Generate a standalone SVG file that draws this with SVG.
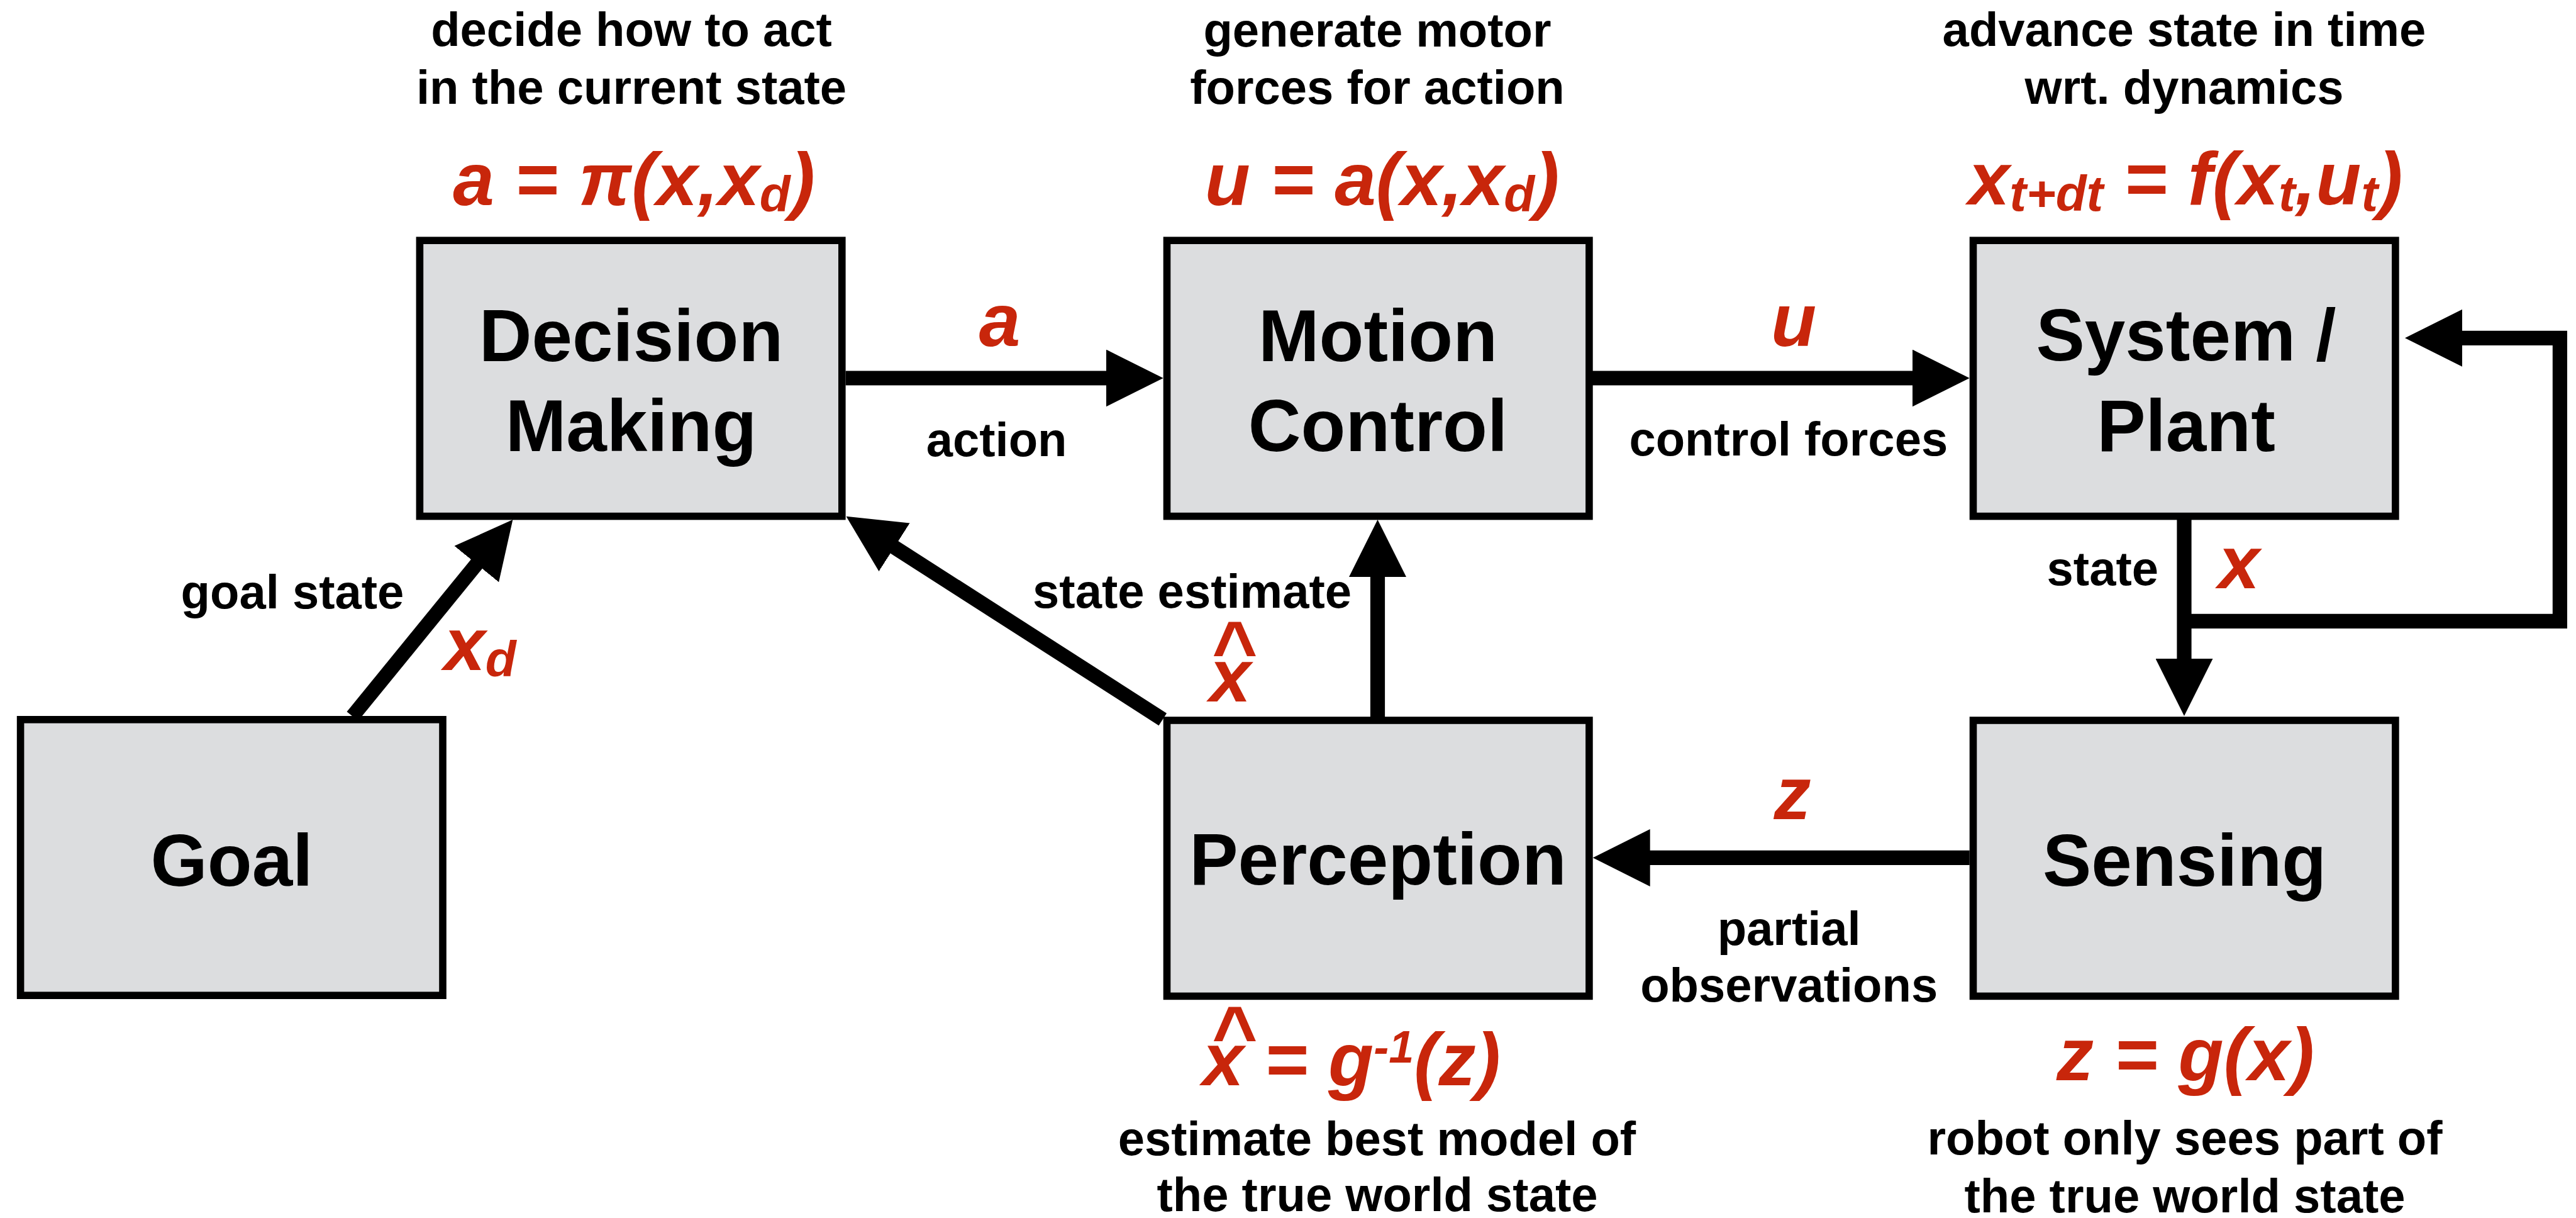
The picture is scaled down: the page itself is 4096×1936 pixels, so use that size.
<svg xmlns="http://www.w3.org/2000/svg" width="4096" height="1936" viewBox="0 0 4096 1936">
  <defs>
    <style>
      .box { fill: #DCDDDF; stroke: #000; stroke-width: 11.6; }
      .node { font-family: "Liberation Sans", Arial, sans-serif; font-weight: bold; font-size: 116px; text-anchor: middle; fill: #000; }
      .note { font-family: "Liberation Sans", Arial, sans-serif; font-weight: bold; font-size: 76px; text-anchor: middle; fill: #000; }
      .note.end { text-anchor: end; }
      .math { font-family: "Liberation Sans", Arial, sans-serif; font-weight: bold; font-style: italic; font-size: 118px; fill: #C8260B; }
      .hat { font-size: 124px; }
      .sub { font-size: 80px; }
      .sup { font-size: 72px; }
      .wire { fill: none; stroke: #000; stroke-width: 23.2; stroke-linejoin: miter; marker-end: url(#head); }
    </style>
    <marker id="head" markerUnits="userSpaceOnUse" viewBox="0 0 91 91" markerWidth="91" markerHeight="91" refX="2" refY="45.5" orient="auto">
      <path d="M0,0 L91,45.5 L0,91 Z" fill="#000"/>
    </marker>
  </defs>

  <rect width="4096" height="1936" fill="#fff"/>

  <!-- connectors -->
  <g id="connectors">
    <path class="wire" d="M560.5,1138.5 L759.1,895"/>
    <path class="wire" d="M1344.6,601 H1760.7"/>
    <path class="wire" d="M2531.8,601 H3042.7"/>
    <path class="wire" d="M3473,825.6 V1049"/>
    <path class="wire" d="M3473,987.4 H4070.4 V537.3 H3913"/>
    <path class="wire" d="M3131.7,1363.4 H2621.7"/>
    <path class="wire" d="M2190.5,1139.9 V915"/>
    <path class="wire" d="M1848.8,1143.4 L1420.4,868.7"/>
  </g>

  <!-- connector labels -->
  <g id="edge-labels">
    <text class="math" x="1589.5" y="549.8" text-anchor="middle">a</text>
    <text class="note" x="1584.6" y="725">action</text>
    <text class="math" x="2852" y="549.8" text-anchor="middle">u</text>
    <text class="note" x="2843.8" y="724">control forces</text>
    <text class="note" x="465" y="967.3">goal state</text>
    <text class="math" x="706" y="1064.8">x<tspan class="sub" dy="10">d</tspan></text>
    <text class="note end" x="2149" y="965.5">state estimate</text>
    <text class="math hat" x="1961" y="1074" text-anchor="middle">^</text>
    <text class="math" x="1956" y="1114.8" text-anchor="middle">x</text>
    <text class="note end" x="3432" y="930.2">state</text>
    <text class="math" x="3560" y="935" text-anchor="middle">x</text>
    <text class="math" x="2850" y="1301.7" text-anchor="middle">z</text>
    <text class="note" x="2844.7" y="1502">partial</text>
    <text class="note" x="2844.7" y="1592.2">observations</text>
  </g>

  <g id="goal">
    <rect class="box" x="32.6" y="1143.8" width="671.4" height="438.4"/>
    <text class="node" x="368.5" y="1407.6">Goal</text>
  </g>

  <g id="decision-making">
    <text class="note" x="1004" y="72.9">decide how to act</text>
    <text class="note" x="1004" y="164.5">in the current state</text>
    <text class="math" x="1008" y="325.9" text-anchor="middle">a = π(x,x<tspan class="sub" dy="10">d</tspan><tspan dy="-10">)</tspan></text>
    <rect class="box" x="667.4" y="382.2" width="671.4" height="438.4"/>
    <text class="node" x="1003.5" y="574">Decision</text>
    <text class="node" x="1003.5" y="717">Making</text>
  </g>

  <g id="motion-control">
    <text class="note" x="2190" y="74.2">generate motor</text>
    <text class="note" x="2190" y="164.5">forces for action</text>
    <text class="math" x="2197.5" y="325.9" text-anchor="middle">u = a(x,x<tspan class="sub" dy="10">d</tspan><tspan dy="-10">)</tspan></text>
    <rect class="box" x="1855.5" y="382.2" width="671.4" height="438.4"/>
    <text class="node" x="2191" y="574">Motion</text>
    <text class="node" x="2191" y="717">Control</text>
  </g>

  <g id="system-plant">
    <text class="note" x="3473" y="73.3">advance state in time</text>
    <text class="note" x="3473" y="164.5">wrt. dynamics</text>
    <text class="math" x="3475" y="325.4" text-anchor="middle">x<tspan class="sub" dy="10">t+dt</tspan><tspan dy="-10"> = f(x</tspan><tspan class="sub" dy="10">t</tspan><tspan dy="-10">,u</tspan><tspan class="sub" dy="10">t</tspan><tspan dy="-10">)</tspan></text>
    <rect class="box" x="3137.5" y="382.2" width="671.4" height="438.4"/>
    <text class="node" x="3476" y="573">System /</text>
    <text class="node" x="3476" y="717">Plant</text>
  </g>

  <g id="perception">
    <rect class="box" x="1855.5" y="1145" width="671.4" height="438.4"/>
    <text class="node" x="2191" y="1406.3">Perception</text>
    <text class="math hat" x="1961" y="1686" text-anchor="middle">^</text>
    <text class="math" x="1912" y="1725.4">x = g<tspan class="sup" dy="-36">-1</tspan><tspan dy="36">(z)</tspan></text>
    <text class="note" x="2189.4" y="1836.3">estimate best model of</text>
    <text class="note" x="2190" y="1925.2">the true world state</text>
  </g>

  <g id="sensing">
    <rect class="box" x="3137.5" y="1145" width="671.4" height="438.4"/>
    <text class="node" x="3473.5" y="1408">Sensing</text>
    <text class="math" x="3475" y="1717.4" text-anchor="middle">z = g(x)</text>
    <text class="note" x="3474" y="1835.4">robot only sees part of</text>
    <text class="note" x="3474" y="1926.6">the true world state</text>
  </g>
</svg>
